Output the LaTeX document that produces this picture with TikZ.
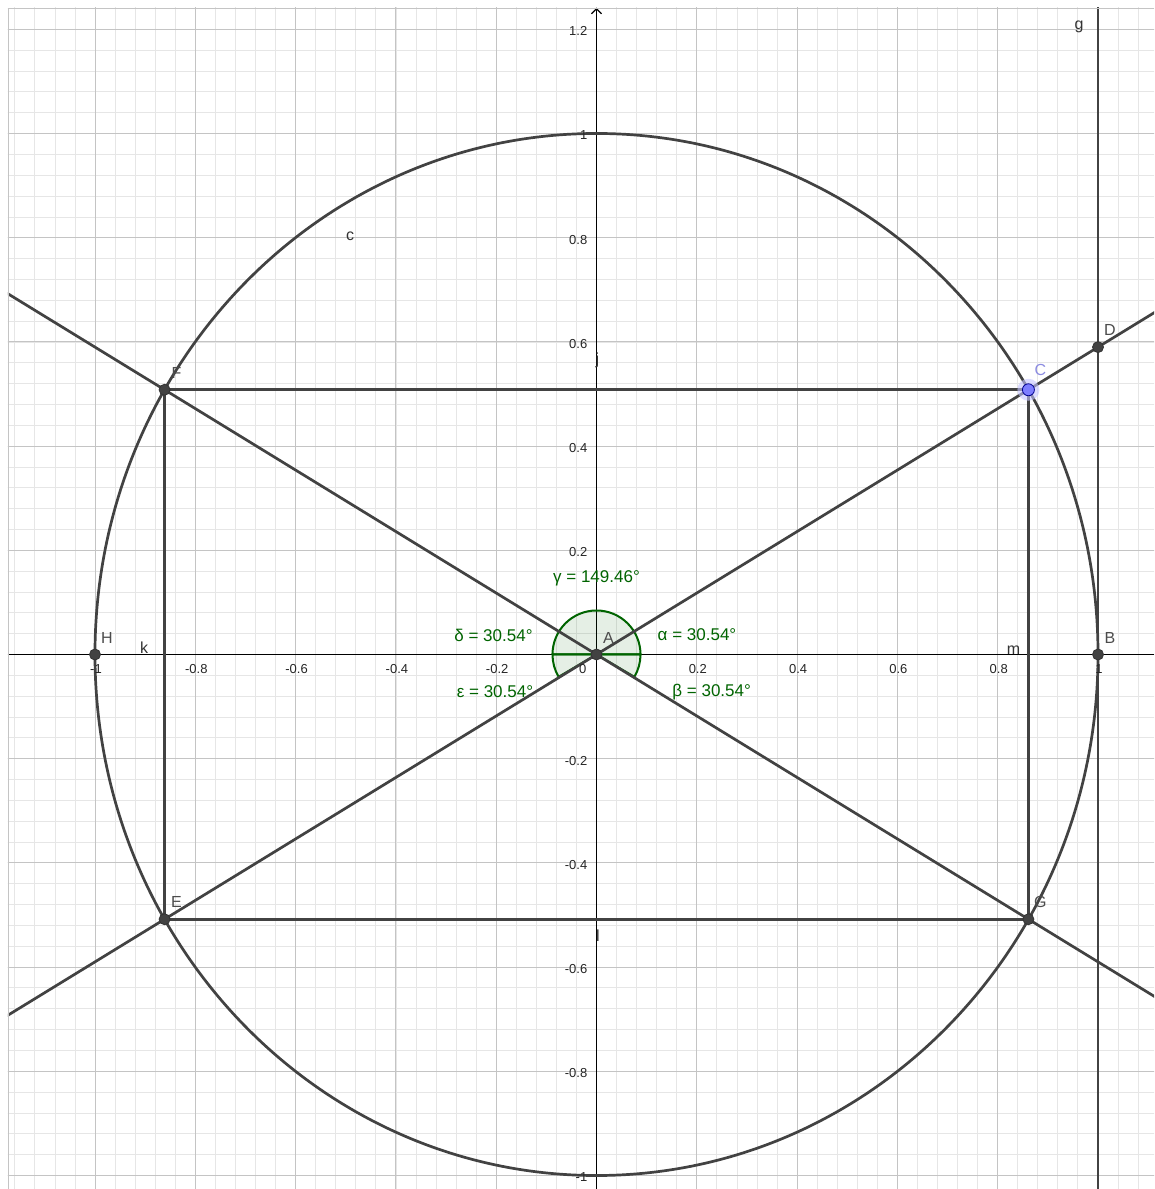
\documentclass[tikz,border=0pt]{standalone}
\usepackage{fontspec}
\setmainfont{Liberation Sans}
\usetikzlibrary{
	arrows.meta,
	calc
}
\definecolor{GridMajor}{RGB}{196,196,196}
\definecolor{GridMinor}{RGB}{230,230,230}
\definecolor{LineGray}{RGB}{66,66,66}
\definecolor{AngleGreen}{RGB}{0,100,0}
\definecolor{PointBlue}{RGB}{125,125,255}
\definecolor{LabelBlue}{RGB}{140,140,225}

\begin{document}
\begin{tikzpicture}[x=501.5pt, y=521pt,
		geo/.style={LineGray, line width=2.7pt},
		axis/.style={black, line width=1.3pt},
		ticklab/.style={inner sep=2pt, font=\fontsize{13}{15}\selectfont, black!85},
		ptlab/.style={font=\fontsize{16}{18}\selectfont, black!70},
		objlab/.style={font=\fontsize{16}{18}\selectfont, black!80},
		anglab/.style={font=\fontsize{17}{19}\selectfont, AngleGreen},
		pt/.style={fill=LineGray, draw=black!80, line width=0.8pt}]
			\fill[white] (-1.1894,-1.0259) rectangle (1.1117,1.2562);
			\useasboundingbox (-1.1894,-1.0259) rectangle (1.1117,1.2562);
			\coordinate (A) at (0,0);
			\coordinate (B) at (1,0);
			\coordinate (H) at (-1,0);
			\coordinate (C) at (30.54:1);
			\coordinate (F) at (149.46:1);
			\coordinate (E) at (210.54:1);
			\coordinate (G) at (-30.54:1);
			\coordinate (D) at (1,{tan(30.54)});
			\begin{scope}
				\clip (-1.1735,-1.0259) rectangle (1.1117,1.2409);
				\draw[GridMinor, line width=0.8pt, step=0.04] (-1.2,-1.04) grid (1.12,1.28);
				\draw[GridMajor, line width=0.9pt, step=0.2] (-1.2,-1.04) grid (1.12,1.28);
				\draw[axis] (-1.1735,0) -- (1.1117,0);
				\draw[axis, -{Straight Barb[length=5pt, width=10pt, line width=1.2pt]}] (0,-1.0259) -- (0,1.2409);
				% angles
				\fill[AngleGreen, fill opacity=0.1] (A) -- (0:44pt) arc (0:180:44pt) -- cycle;
				\fill[AngleGreen, fill opacity=0.1] (A) -- (180:44pt) arc (180:210.54:44pt) -- cycle;
				\fill[AngleGreen, fill opacity=0.1] (A) -- (329.46:44pt) arc (329.46:360:44pt) -- cycle;
				\draw[AngleGreen, line width=2pt] (180:44pt) -- (0:44pt) arc (0:180:44pt);
				\draw[AngleGreen, line width=2pt] (A) -- (180:44pt) arc (180:210.54:44pt) -- cycle;
				\draw[AngleGreen, line width=2pt] (A) -- (329.46:44pt) arc (329.46:360:44pt) -- cycle;
				% objects
				\draw[geo] ($(A)!1.5!(E)$) -- ($(A)!1.5!(C)$);
				\draw[geo] ($(A)!1.5!(F)$) -- ($(A)!1.5!(G)$);
				\draw[geo] ($(B)+(0,-1.1)$) -- ($(B)+(0,1.3)$);
				\draw[geo] (A) circle (1);
				\draw[geo] (F) -- (C);
				\draw[geo] (C) -- (G);
				\draw[geo] (G) -- (E);
				\draw[geo] (E) -- (F);
			\end{scope}
			\draw[GridMajor, line width=0.9pt] (-1.1735,-1.0259) -- (-1.1735,1.2409) -- (1.1117,1.2409);
			% axis labels
			\foreach \t [count=\i] in {-1,-0.8,-0.6,-0.4,-0.2,0.2,0.4,0.6,0.8,1}
				\node[ticklab, anchor=north] (tx\i) at ($(\t,0)+(1pt,-8pt)$) {\t};
			\foreach \t [count=\i] in {-1,-0.8,-0.6,-0.4,-0.2,0.2,0.4,0.6,0.8,1,1.2}
				\node[ticklab, anchor=east] (ty\i) at ($(0,\t)+(-7pt,-2pt)$) {\t};
			\node[ticklab, anchor=north east] (t0) at ($(A)+(-8pt,-8pt)$) {0};
			% points
			\foreach \p in {A,B,D,E,F,G,H} {
				\filldraw[pt] (\p) circle (5.5pt);
				\node[ptlab] (lab\p) at ($(\p)+(12pt,17pt)$) {\p};
			}
			\fill[PointBlue!45, opacity=0.6] (C) circle (11pt);
			\filldraw[fill=PointBlue, draw=blue!55!black, line width=0.8pt] (C) circle (6pt);
			\node[ptlab, LabelBlue] (labC) at ($(C)+(12pt,20pt)$) {C};
			% names
			\node[objlab] (labc) at (-0.4915,0.8033) {c};
			\node[objlab] (labg) at (0.962,1.205) {g};
			\node[objlab] (labk) at (-0.902,0.013) {k};
			\node[objlab] (labm) at (0.8315,0.0086) {m};
			\node[objlab] (labj) at (0.002,0.565) {j};
			\node[objlab] (labl) at (0.003,-0.5403) {l};
			% angle values
			\node[anglab] (gam) at (0,0.1468) {γ = 149.46°};
			\node[anglab] (alp) at (0.2004,0.0374) {α = 30.54°};
			\node[anglab] (del) at (-0.2054,0.0365) {δ = 30.54°};
			\node[anglab] (eps) at (-0.2024,-0.072) {ε = 30.54°};
			\node[anglab] (bet) at (0.2297,-0.072) {β = 30.54°};
		\end{tikzpicture}
\end{document}
